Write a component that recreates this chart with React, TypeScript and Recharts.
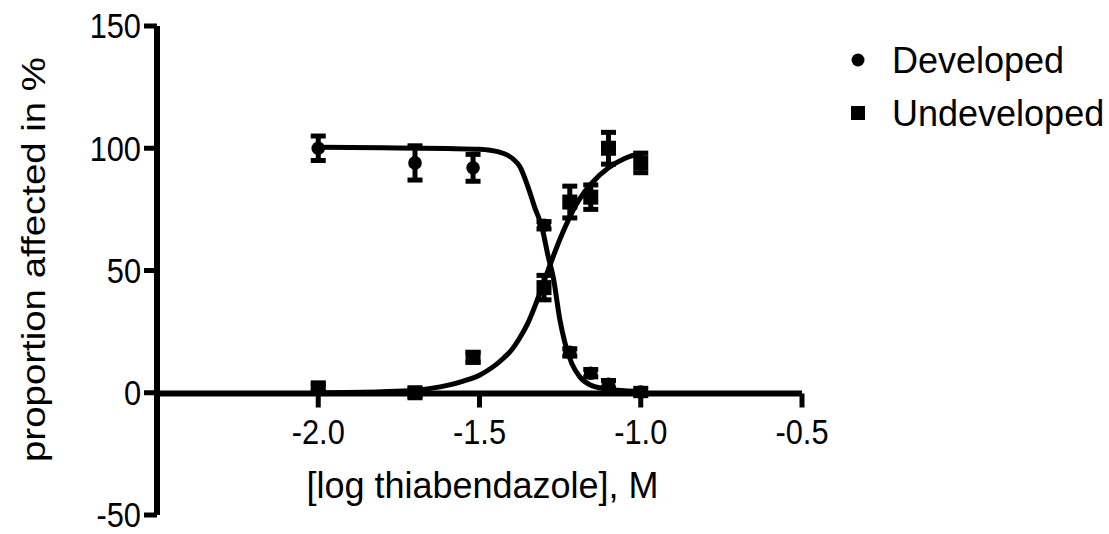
import { ComposedChart, Line, Scatter, ErrorBar, XAxis, YAxis, Legend } from "recharts";

// log10 of concentration (M)
const doseLog = [-2.0, -1.7, -1.52, -1.3, -1.22, -1.155, -1.1, -1.0];
const developedMean = [100, 94, 92, 68.5, 16.5, 8, 3.5, 0.3];
const developedErr = [5, 7, 5.5, 1.5, 1.5, 1.5, 1.5, 1.5];
const undevelopedMean = [2, 0, 14.5, 43, 78, 80, 100, 94];
const undevelopedErr = [1.5, 1.5, 2, 5, 6.5, 5, 6.5, 4];

// fitted curves
const developedFitX = [-2.0, -1.8, -1.6, -1.5, -1.467, -1.44, -1.415, -1.395, -1.375, -1.35, -1.328, -1.307, -1.287, -1.271, -1.251, -1.235, -1.214, -1.189, -1.158, -1.105, -1.05, -1.0];
const developedFitY = [100.4, 100.2, 99.9, 99.6, 99.2, 98.5, 97.3, 95.5, 92.5, 84.3, 75.5, 68, 55.7, 47, 30, 20.4, 12, 6.5, 3.3, 1.5, 0.8, 0.5];
const undevelopedFitX = [-2.0, -1.8, -1.7, -1.6, -1.55, -1.5, -1.475, -1.45, -1.425, -1.4, -1.375, -1.35, -1.325, -1.3, -1.275, -1.25, -1.225, -1.2, -1.175, -1.15, -1.1, -1.05, -1.0];
const undevelopedFitY = [0, 0.4, 1, 3, 4.8, 7.2, 9.1, 11.4, 14.2, 17.6, 22.5, 28.5, 36.5, 45.5, 54.5, 63, 70.5, 77, 82, 86, 92, 95.8, 98];

const xTicks = [-2.0, -1.5, -1.0, -0.5];
const yTicks = [-50, 0, 50, 100, 150];

const FONT = "'Liberation Sans', Arial, sans-serif";

const developed = doseLog.map((x, i) => ({ x, y: developedMean[i], err: developedErr[i] }));
const undeveloped = doseLog.map((x, i) => ({ x, y: undevelopedMean[i], err: undevelopedErr[i] }));
const developedFit = developedFitX.map((x, i) => ({ x, y: developedFitY[i] }));
const undevelopedFit = undevelopedFitX.map((x, i) => ({ x, y: undevelopedFitY[i] }));

const YTick = ({ x, y, payload }: any) => (
  <text
    transform={`translate(${x},${y}) scale(0.88,1)`}
    textAnchor="end"
    dy="0.355em"
    fontSize={35}
    fontFamily={FONT}
    fill="#000"
  >
    {payload.value}
  </text>
);

const XTick = ({ x, y, payload }: any) => (
  <text
    transform={`translate(${x},${y}) scale(0.88,1)`}
    textAnchor="middle"
    dy="0.71em"
    fontSize={35}
    fontFamily={FONT}
    fill="#000"
  >
    {payload.value.toFixed(1)}
  </text>
);

const YTitle = ({ viewBox }: any) => {
  const cx = viewBox.x + 33;
  const cy = viewBox.y + viewBox.height / 2 - 11;
  return (
    <text
      x={cx}
      y={cy}
      transform={`rotate(-90, ${cx}, ${cy})`}
      textAnchor="middle"
      dy="0.355em"
      fontSize={33}
      fontFamily={FONT}
      fill="#000"
      textLength={405}
      lengthAdjust="spacingAndGlyphs"
    >
      proportion affected in %
    </text>
  );
};

const XTitle = ({ viewBox }: any) => (
  <text
    x={viewBox.x + viewBox.width / 2 + 3}
    y={viewBox.y + 104}
    textAnchor="middle"
    fontSize={36}
    fontFamily={FONT}
    fill="#000"
  >
    [log thiabendazole], M
  </text>
);

const Dot = ({ cx, cy }: any) => <circle cx={cx} cy={cy} r={6.8} fill="#000" />;
const Box = ({ cx, cy }: any) => <rect x={cx - 7.5} y={cy - 7.5} width={15} height={15} fill="#000" />;

const renderLegend = (props: any) => {
  const items = (props.payload || []).filter((p: any) => p.type !== "none");
  return (
    <svg width={270} height={120}>
      {items.map((p: any, i: number) => (
        <g key={p.value}>
          {p.type === "square" ? (
            <rect x={11} y={76 - 7} width={14} height={14} fill="#000" />
          ) : (
            <circle cx={18} cy={23 + i * 53} r={6.5} fill="#000" />
          )}
          <text x={52} y={36 + i * 53} fontSize={36} fontFamily={FONT} fill="#000">
            {p.value}
          </text>
        </g>
      ))}
    </svg>
  );
};

const axisStroke = { stroke: "#000", strokeWidth: 6 };
const tickStroke = { stroke: "#000", strokeWidth: 5 };

export default function App() {
  return (
    <div style={{ position: "absolute", left: 0, top: 0, width: 1109, height: 534, background: "#fff" }}>
      <ComposedChart width={1109} height={534} margin={{ top: 26, right: 307, bottom: 19, left: 0 }}>
        <XAxis type="number" dataKey="x" domain={[-2.5, -0.5]} allowDataOverflow hide />
        <YAxis
          type="number"
          dataKey="y"
          domain={[-50, 150]}
          ticks={yTicks}
          interval={0}
          width={157}
          axisLine={axisStroke}
          tickLine={tickStroke}
          tickSize={13}
          tickMargin={3}
          tick={<YTick />}
          label={<YTitle />}
          allowDataOverflow
        />
        <Line
          data={developedFit}
          dataKey="y"
          type="monotone"
          stroke="#000"
          strokeWidth={5}
          dot={false}
          activeDot={false}
          legendType="none"
          isAnimationActive={false}
        />
        <Line
          data={undevelopedFit}
          dataKey="y"
          type="monotone"
          stroke="#000"
          strokeWidth={5}
          dot={false}
          activeDot={false}
          legendType="none"
          isAnimationActive={false}
        />
        <Scatter name="Developed" data={developed} dataKey="y" fill="#000" shape={<Dot />} legendType="circle" isAnimationActive={false}>
          <ErrorBar dataKey="err" direction="y" width={7.5} stroke="#000" strokeWidth={5} isAnimationActive={false} />
        </Scatter>
        <Scatter name="Undeveloped" data={undeveloped} dataKey="y" fill="#000" shape={<Box />} legendType="square" isAnimationActive={false}>
          <ErrorBar dataKey="err" direction="y" width={7.5} stroke="#000" strokeWidth={5} isAnimationActive={false} />
        </Scatter>
        <Legend
          layout="vertical"
          align="center"
          verticalAlign="middle"
          content={renderLegend}
          wrapperStyle={{ left: 840, top: 37, width: 270, height: 120 }}
        />
      </ComposedChart>
      <div style={{ position: "absolute", left: 0, top: 0 }}>
        <ComposedChart width={1109} height={534} margin={{ top: 0, right: 307, bottom: 40.5, left: 157 }}>
          <XAxis
            type="number"
            dataKey="x"
            domain={[-2.5, -0.5]}
            ticks={xTicks}
            interval={0}
            height={100}
            axisLine={axisStroke}
            tickLine={tickStroke}
            tickSize={14}
            tickMargin={12}
            tick={<XTick />}
            label={<XTitle />}
            allowDataOverflow
          />
          <YAxis type="number" domain={[-50, 150]} hide />
        </ComposedChart>
      </div>
    </div>
  );
}
